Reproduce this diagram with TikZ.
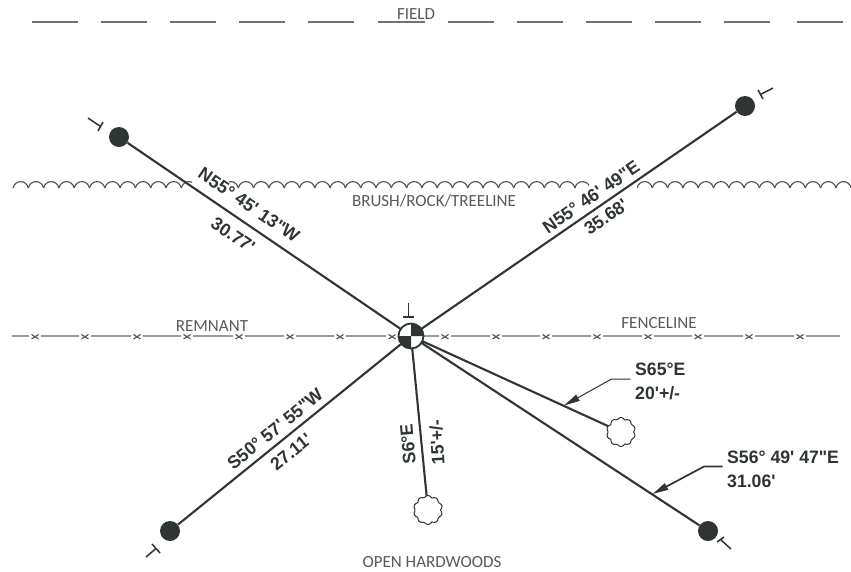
\documentclass[tikz,border=0pt]{standalone}
\usepackage{fontspec}
\setmainfont{Carlito}
\newfontfamily\boldlabelfont[FakeStretch=0.98]{Liberation Sans}
\usetikzlibrary{arrows.meta}
\definecolor{ink}{HTML}{2F3533}
\definecolor{soft}{HTML}{6E7270}
\tikzset{
  line/.style={draw=ink,line width=2.1pt},
  thinline/.style={draw=ink,line width=1.5pt},
  lead/.style={draw=ink,-{Triangle[length=16pt,width=7pt]}},
  pin/.style={circle,fill=ink,minimum size=20pt,inner sep=0pt},
  tag/.style={font=\boldlabelfont\bfseries\fontsize{18}{20}\selectfont,text=ink,inner sep=0pt},
  plain/.style={font=\fontsize{17}{20}\selectfont,text=soft!80!black,inner sep=0pt},
  dashrule/.style={draw=soft,line width=1.2pt},
  fence/.style={draw=soft!70,line width=1.2pt},
  scallop/.style={draw=soft!70!black,line width=1.1pt},
  xmark/.style={draw=ink!85,line width=1.1pt},
  tree/.style={draw=ink,line width=1pt,fill=white}
}
\newcommand{\scallops}[3]{% start, count, y
  \foreach \i in {1,...,#2}{
    \pgfmathsetmacro{\xa}{#1+(\i-1)*15.3}
    \pgfmathsetmacro{\xb}{\xa+15.3}
    \draw[scallop] (\xa,#3) .. controls (\xa+2,#3-8.5) and (\xb-2,#3-8.5) .. (\xb,#3);
  }}
\newcommand{\cloud}[3]{% x y r
  \pgfmathsetmacro{\cx}{#1}\pgfmathsetmacro{\cy}{#2}\pgfmathsetmacro{\cr}{#3}
  \draw[tree] plot[smooth cycle,samples=45,domain=0:352,variable=\t]
    ({\cx+(\cr+abs(sin(\t*5))*2)*cos(\t)},{\cy+(\cr+abs(sin(\t*5))*2)*sin(\t)});
}
\begin{document}
\begin{tikzpicture}[x=1pt,y=-1pt]
\useasboundingbox (0,0) rectangle (851,571);
\fill[white] (0,0) rectangle (851,571);

% field
\foreach \a/\b in {32/78,101/147,170/216,239/285,308/354,378/425,448/494,517/563,586/632,655/701,724/770,797/843}
  \draw[dashrule] (\a,22) -- (\b,22);
\node[plain] (field) at (416,14) {FIELD};

% treeline
\begin{scope}
  \clip (10,170) rectangle (192,195) (229,170) rectangle (589,195) (637,170) rectangle (851,195);
  \scallops{13}{12}{188}
  \scallops{223}{24}{188}
  \scallops{637}{14}{188}
\end{scope}
\node[plain] (brush) at (434,201) {BRUSH/ROCK/TREELINE};

% fence
\draw[fence] (12,336) -- (840,336);
\foreach \x in {35,85,137,187,239,290,340,392,445,496,546,597,648,698,749,800}{
  \fill[white] (\x-6,333) rectangle (\x+6,340);
  \draw[xmark] (\x-3.5,334.5) -- (\x+3.5,339) (\x+3.5,334.5) -- (\x-3.5,339);
}
\node[plain] (remnant) at (212,326) {REMNANT};
\node[plain] (fenceline) at (659,323) {FENCELINE};

% points
\node[pin] (nw) at (119,137) {};
\node[pin] (ne) at (745,106) {};
\node[pin] (sw) at (170,531) {};
\node[pin] (se) at (708,531) {};
\coordinate (c) at (411,336);

% courses
\draw[line] (c) -- (nw);
\draw[line] (c) -- (ne);
\draw[line] (c) -- (sw);
\draw[line] (c) -- (se);
\coordinate (t1) at (621,432);
\coordinate (t2) at (428,510);
\draw[line] (c) -- (t1);
\draw[line] (c) -- (t2);
\cloud{621}{432}{12.5}
\cloud{428}{510}{12.5}

% monument
\fill[white] (c) circle (12.5);
\fill[ink] (c) -- (411,323.5) arc[start angle=-90,end angle=0,radius=12.5] -- cycle;
\fill[ink] (c) -- (411,348.5) arc[start angle=90,end angle=180,radius=12.5] -- cycle;
\draw[ink,line width=1.8pt] (c) circle (12.5);

% tee marks
\draw[thinline] (403,317) -- (414,317) (408.7,303) -- (408.7,317);
\draw[thinline] (98,131) -- (103,122) (88,118) -- (100.5,126.5);
\draw[thinline] (758,90) -- (763,99) (773,88) -- (760.5,94.5);
\draw[thinline] (152,544) -- (160,553) (146,557) -- (156,548.5);
\draw[thinline] (717,542) -- (724,537) (731,549) -- (720.5,539.5);

% leaders
\coordinate (l1a) at (630.5,379); \coordinate (l1b) at (611.5,379); \coordinate (l1c) at (564,405.5);
\draw[lead,line width=1pt] (l1a) -- (l1b) -- (l1c);
\coordinate (l2a) at (722.5,466.5); \coordinate (l2b) at (704,466.5); \coordinate (l2c) at (652.5,494);
\draw[lead,line width=1.7pt] (l2a) -- (l2b) -- (l2c);

% labels
\node[tag,rotate=-34.3] (a1) at (249,205) {N55° 45' 13"W};
\node[tag,rotate=-34.3] (a2) at (233,235) {30.77'};
\node[tag,rotate=34.5] (b1) at (591,197) {N55° 46' 49"E};
\node[tag,rotate=34.5] (b2) at (606,217) {35.68'};
\node[tag,rotate=39] (d1) at (275,429) {S50° 57' 55"W};
\node[tag,rotate=39] (d2) at (291,452) {27.11'};
\node[tag,rotate=95] (e1) at (408,444) {S6°E};
\node[tag,rotate=93] (e2) at (437,442) {15'+/-};
\node[tag,anchor=base west] (f1) at (635,375) {S65°E};
\node[tag,anchor=base west] (f2) at (635,399) {20'+/-};
\node[tag,anchor=base west] (g1) at (727,463) {S56° 49' 47"E};
\node[tag,anchor=base west] (g2) at (727,487) {31.06'};
\node[plain] (open) at (432,562) {OPEN HARDWOODS};
\end{tikzpicture}
\end{document}
